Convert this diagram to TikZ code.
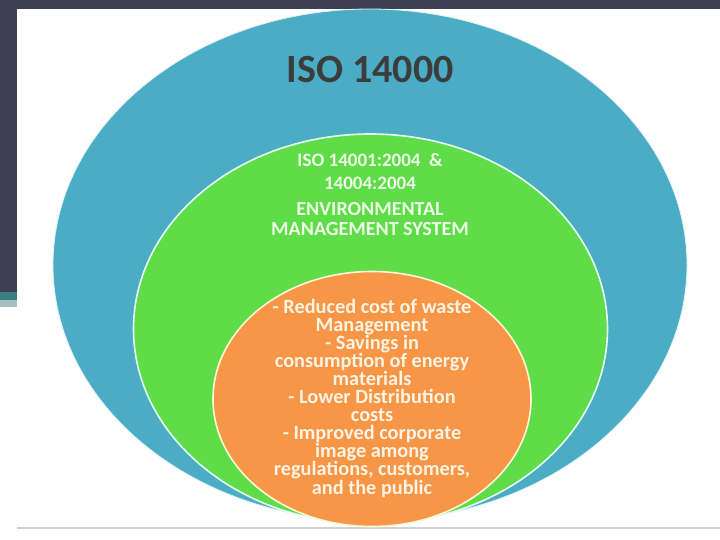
\documentclass[tikz,border=0pt]{standalone}
\usepackage{fontspec}
\setmainfont{Carlito}
\usetikzlibrary{shapes.geometric}
\definecolor{darkbg}{HTML}{3E3F50}
\definecolor{tealstrip}{HTML}{3B7E82}
\definecolor{lightstrip}{HTML}{A7BFC2}
\definecolor{isoblue}{HTML}{4BACC6}
\definecolor{isogreen}{HTML}{5EDD48}
\definecolor{isoorange}{HTML}{F79646}
\definecolor{greenedge}{HTML}{E6FFF2}
\definecolor{orangeedge}{HTML}{FFF6D6}
\definecolor{greentext}{HTML}{EEFBE6}
\definecolor{orangetext}{HTML}{FFF4E4}
\definecolor{titletext}{HTML}{3C3C3C}
\definecolor{rulegray}{HTML}{D2D2D2}
\tikzset{
  ring/.style={ellipse, inner sep=0pt, line width=1.6pt},
  bodytext/.style={align=center, inner sep=0pt, font=\bfseries}
}
\begin{document}
\begin{tikzpicture}[x=1pt,y=-1pt]
\useasboundingbox (0,0) rectangle (720,540);
\fill[white] (0,0) rectangle (720,540);
% slide frame
\fill[darkbg] (0,0) rectangle (720,9);
\fill[darkbg] (0,0) rectangle (17,292);
\fill[tealstrip] (0,292) rectangle (17,300);
\fill[lightstrip] (0,300) rectangle (17,307);
\fill[rulegray] (17,526.5) rectangle (720,528.5);
% nested ellipses
\node[ring, fill=isoblue, draw=white!85!isoblue, line width=0.8pt, minimum width=634pt, minimum height=512pt] (outer) at (370,265) {};
\node[ring, fill=isogreen, draw=greenedge, minimum width=474pt, minimum height=390pt] (middle) at (370.5,329) {};
\node[ring, fill=isoorange, draw=orangeedge, minimum width=318pt, minimum height=255pt] (inner) at (372,399) {};
% texts
\node[bodytext, text=titletext, font=\bfseries\fontsize{40}{44}\selectfont] (title) at (370,70) {ISO 14000};
\node[bodytext, text=greentext, font=\bfseries\fontsize{19}{23}\selectfont] (std) at (370,172) {ISO 14001:2004 \ \&\\14004:2004};
\node[bodytext, text=greentext, font=\bfseries\fontsize{20}{20}\selectfont] (ems) at (370,219) {ENVIRONMENTAL\\MANAGEMENT SYSTEM};
\node[bodytext, text=orangetext, font=\bfseries\fontsize{20.3}{18.1}\selectfont] (benefits) at (372,398) {- Reduced cost of waste\\Management\\- Savings in\\consumption of energy\\materials\\- Lower Distribution\\costs\\- Improved corporate\\image among\\regulations, customers,\\and the public};
\end{tikzpicture}
\end{document}
